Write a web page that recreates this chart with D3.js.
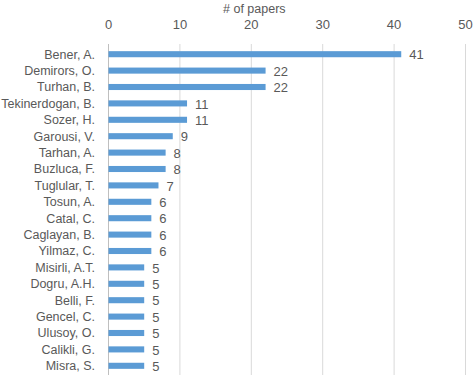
<!DOCTYPE html>
<html lang="en">
<head>
<meta charset="UTF-8"/>
<title>Papers per author</title>
<script src="https://d3js.org/d3.v7.min.js"></script>
<style>
  body { margin: 0; background: #fff; }
  text { font-family: "Liberation Sans", Arial, sans-serif; fill: #595959; }
</style>
</head>
<body>
<script>
var authors = ["Bener, A.", "Demirors, O.", "Turhan, B.", "Tekinerdogan, B.", "Sozer, H.",
               "Garousi, V.", "Tarhan, A.", "Buzluca, F.", "Tuglular, T.", "Tosun, A.",
               "Catal, C.", "Caglayan, B.", "Yilmaz, C.", "Misirli, A.T.", "Dogru, A.H.",
               "Belli, F.", "Gencel, C.", "Ulusoy, O.", "Calikli, G.", "Misra, S."];
var papers = [41, 22, 22, 11, 11, 9, 8, 8, 7, 6, 6, 6, 6, 5, 5, 5, 5, 5, 5, 5];
var ticks = [0, 10, 20, 30, 40, 50];

var w = 473, h = 375;
var svg = d3.select("body").append("svg")
            .attr("width", w)
            .attr("height", h);

var x = d3.scaleLinear().domain([0, 50]).range([108.5, 465.5]);
var y = d3.scaleBand().domain(authors).range([46, 374]).paddingInner(0.63).paddingOuter(0.315);

// grid lines
svg.selectAll("line.grid")
    .data(ticks)
    .enter()
    .append("line")
    .attr("class", "grid")
    .attr("x1", d => x(d)).attr("x2", d => x(d))
    .attr("y1", 44).attr("y2", h)
    .attr("stroke", d => d === 0 ? "#bfbfbf" : "#d9d9d9")
    .attr("stroke-width", 1);

// tick labels
svg.selectAll("text.tick")
    .data(ticks)
    .enter()
    .append("text")
    .attr("class", "tick")
    .attr("x", d => x(d))
    .attr("y", 29)
    .attr("text-anchor", "middle")
    .attr("font-size", "13px")
    .text(d => d);

svg.append("text")
    .attr("x", x(20) + 3)
    .attr("y", 13)
    .attr("text-anchor", "middle")
    .attr("font-size", "12.5px")
    .text("# of papers");

// bars
svg.selectAll("rect.bar")
    .data(papers)
    .enter()
    .append("rect")
    .attr("class", "bar")
    .attr("x", x(0))
    .attr("y", (d, i) => y(authors[i]))
    .attr("width", d => x(d) - x(0))
    .attr("height", y.bandwidth())
    .attr("fill", "#5b9bd5");

// category labels
svg.selectAll("text.cat")
    .data(authors)
    .enter()
    .append("text")
    .attr("class", "cat")
    .attr("x", 95)
    .attr("y", d => y(d) + y.bandwidth() / 2)
    .attr("dy", "0.35em")
    .attr("text-anchor", "end")
    .attr("font-size", "12.5px")
    .text(d => d);

// value labels
svg.selectAll("text.val")
    .data(papers)
    .enter()
    .append("text")
    .attr("class", "val")
    .attr("x", d => x(d) + 8)
    .attr("y", (d, i) => y(authors[i]) + y.bandwidth() / 2)
    .attr("dy", "0.4em")
    .attr("font-size", "13px")
    .text(d => d);
</script>
</body>
</html>
